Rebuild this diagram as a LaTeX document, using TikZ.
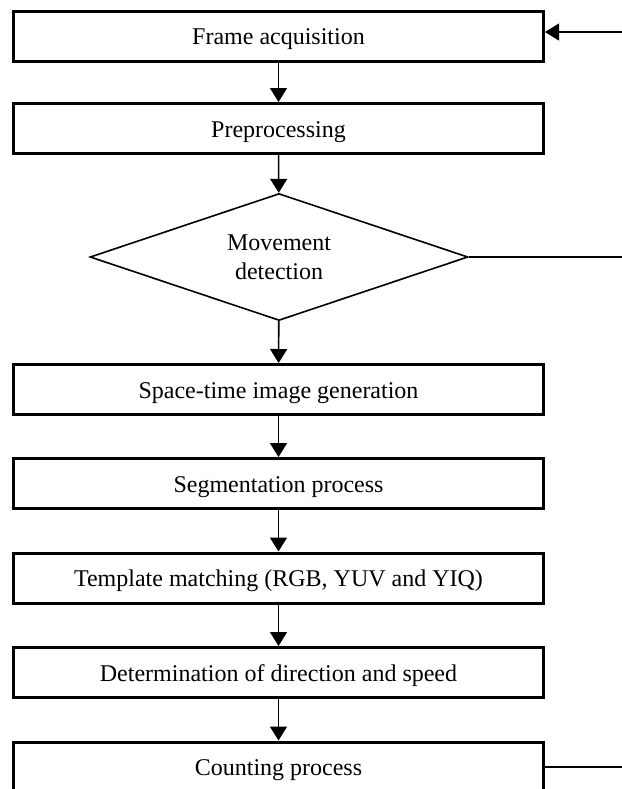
\documentclass[tikz,border=0pt]{standalone}
\usepackage{fontspec}
\setmainfont{Liberation Serif}
\usetikzlibrary{arrows.meta,shapes.geometric,positioning}
\tikzset{
  stagebox/.style={draw, line width=1.5pt, minimum width=265pt, minimum height=25pt,
    inner sep=0pt, text height=8.7pt, text depth=0pt, font=\fontsize{12}{14.5}\selectfont},
  testbox/.style={draw, diamond, aspect=3, line width=0.8pt, minimum width=189pt,
    minimum height=63.5pt, inner sep=0pt, align=center, font=\fontsize{12}{14.5}\selectfont},
  flow/.style={-{Triangle[length=7pt,width=8.5pt]}, line width=0.8pt},
  loopline/.style={line width=0.6pt}
}

\begin{document}
\begin{tikzpicture}[x=0.5pt,y=-0.5pt]

    % Page frame.
    \clip (0,0) rectangle (622,789);

    % Stages of the process.
    \node[stagebox] (frame) at (278.5,36)    {Frame acquisition};
    \node[stagebox] (prep)  at (278.5,128.5) {Preprocessing};
    \node[testbox]  (move)  at (279,257)     {Movement\\detection};
    \node[stagebox] (space) at (278.5,389.5) {Space-time image generation};
    \node[stagebox] (segm)  at (278.5,483.5) {Segmentation process};
    \node[stagebox] (templ) at (278.5,578)   {Template matching (RGB, YUV and YIQ)};
    \node[stagebox] (dirsp) at (278.5,672.5) {Determination of direction and speed};
    \node[stagebox] (count) at (278.5,767)   {Counting process};

    % Arrows down the chain.
    \foreach \a/\b in {frame/prep,prep/move,move/space,space/segm,segm/templ,templ/dirsp,dirsp/count}
        \draw[flow] (\a) -- (\b);

    % Return lines on the right.
    \coordinate (back1) at (622,32);
    \coordinate (back2) at (622,257);
    \coordinate (back3) at (622,767);
    \draw[flow,line width=0.6pt] (back1) -- (back1 -| frame.east);
    \draw[loopline] (move.east) -- (back2);
    \draw[loopline] (count.east) -- (back3);

\end{tikzpicture}
\end{document}
